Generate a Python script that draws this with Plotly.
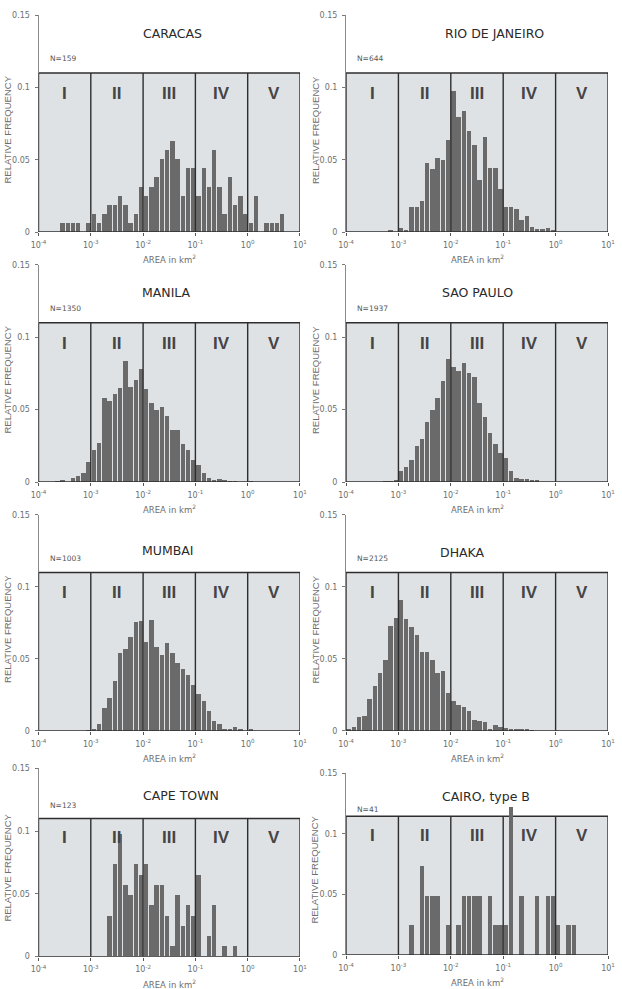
import plotly.graph_objects as go

# ---------------- data ----------------
# 10 bins per decade, from 10^-4 to 10^1 km^2 (50 bins); values = relative frequency
BIN_LEFT_EXP = [-4 + i / 10 for i in range(50)]
BIN_WIDTH_EXP = 0.1

cities = ["CARACAS", "RIO DE JANEIRO", "MANILA", "SAO PAULO",
          "MUMBAI", "DHAKA", "CAPE TOWN", "CAIRO, type B"]
n_labels = ["N=159", "N=644", "N=1350", "N=1937", "N=1003", "N=2125", "N=123", "N=41"]

caracas = [0, 0, 0, 0, .0063, .0063, .0063, .0063, 0, .0063,
           .0126, .0063, .0126, .0189, .0189, .0252, .0189, .0063, .0126, .0314,
           .0252, .0314, .0377, .0503, .0566, .0629, .0503, .0252, .0440, .0440,
           .0252, .0440, .0314, .0566, .0314, .0126, .0377, .0189, .0252, .0126,
           .0063, .0252, 0, .0063, .0063, .0063, .0126, 0, 0, 0]
rio = [0, 0, 0, 0, 0, 0, 0, 0, .0016, 0,
       .0031, .0016, .0170, .0170, .0216, .0480, .0436, .0510, .0495, .0634,
       .0977, .0795, .0836, .0700, .0600, .0360, .0660, .0440, .0440, .0300,
       .0170, .0170, .0160, .0080, .0110, .0034, .0023, .0018, .0030, .0016,
       0, 0, 0, 0, 0, 0, 0, 0, 0, 0]
manila = [0, 0, 0, .0007, .0016, 0, .0030, .0044, .0065, .0140,
          .0223, .0272, .0583, .0560, .0610, .0650, .0840, .0657, .0703, .0783,
          .0645, .0546, .0500, .0520, .0456, .0357, .0357, .0265, .0220, .0150,
          .0120, .0062, .0030, .0012, .0020, .0011, .0010, .0007, 0, 0,
          .0010, 0, 0, 0, 0, 0, 0, 0, 0, 0]
sao_paulo = [0, 0, 0, 0, 0, 0, 0, .0005, .0010, .0012,
             .0076, .0104, .0155, .0250, .0296, .0417, .0500, .0580, .0700, .0850,
             .0794, .0766, .0824, .0752, .0725, .0544, .0447, .0338, .0262, .0204,
             .0164, .0076, .0025, .0018, .0023, .0014, .0012, 0, 0, 0,
             0, 0, 0, 0, 0, 0, 0, 0, 0, 0]
mumbai = [0, 0, 0, 0, 0, 0, 0, 0, 0, .0005,
          .0015, .0048, .0157, .0230, .0348, .0540, .0570, .0650, .0756, .0763,
          .0618, .0774, .0580, .0530, .0610, .0540, .0470, .0433, .0387, .0318,
          .0260, .0210, .0140, .0071, .0048, .0014, .0012, .0025, .0009, 0,
          .0014, 0, 0, 0, 0, 0, 0, 0, 0, 0]
dhaka = [.0012, .0030, .0100, .0105, .0220, .0310, .0405, .0490, .0727, .0784,
         .0910, .0780, .0720, .0665, .0550, .0550, .0490, .0400, .0420, .0265,
         .0210, .0180, .0165, .0138, .0073, .0069, .0064, .0011, .0040, .0030,
         .0023, .0014, .0010, .0009, .0009, .0005, 0, 0, 0, 0,
         0, 0, 0, 0, 0, 0, 0, 0, 0, 0]
cape_town = [0, 0, 0, 0, 0, 0, 0, 0, 0, 0,
             0, 0, 0, .0325, .0732, .0976, .0569, .0488, .0732, .0650,
             .0732, .0407, .0569, .0569, .0325, .0081, .0488, .0244, .0407, .0325,
             .0650, 0, .0163, .0407, 0, .0081, 0, .0081, 0, 0,
             0, 0, 0, 0, 0, 0, 0, 0, 0, 0]
cairo_b = [0, 0, 0, 0, 0, 0, 0, 0, 0, 0,
           0, 0, .0244, 0, .0732, .0488, .0488, .0488, 0, .0244,
           0, .0244, .0488, .0488, .0488, .0488, 0, .0488, .0244, .0244,
           .0244, .1220, 0, .0488, 0, 0, .0488, 0, .0488, .0488,
           .0244, 0, .0244, .0244, 0, 0, 0, 0, 0, 0]

series = [caracas, rio, manila, sao_paulo, mumbai, dhaka, cape_town, cairo_b]

class_labels = ["I", "II", "III", "IV", "V"]
class_bounds_exp = [-4, -3, -2, -1, 0, 1]
x_tick_exp = [-4, -3, -2, -1, 0, 1]
x_tick_text = ["10<sup>%d</sup>" % e for e in x_tick_exp]
y_tick_vals = [0, 0.05, 0.1, 0.15]
y_tick_text = ["0", "0.05", "0.1", "0.15"]

# ---------------- layout config ----------------
W, H = 622, 989
col_dom = [[0.0619, 0.4823], [0.5563, 0.9775]]
row_dom = [[0.7654, 0.9848], [0.5126, 0.7321], [0.2609, 0.4793], [0.0327, 0.2232]]
cairo_dom = [0.0344, 0.2181]

panel_cfg = [
    # (row, col, title_x, title_y, box_top, numeral_y)
    (0, 0, -1.44, 0.137, 0.110, 0.096),
    (0, 1, -1.17, 0.137, 0.110, 0.096),
    (1, 0, -1.55, 0.131, 0.110, 0.096),
    (1, 1, -1.50, 0.131, 0.110, 0.096),
    (2, 0, -1.52, 0.125, 0.110, 0.096),
    (2, 1, -1.77, 0.124, 0.110, 0.096),
    (3, 0, -1.28, 0.128, 0.110, 0.095),
    (3, 1, -1.33, 0.131, 0.1145, 0.099),
]

BOX_FILL = "#dfe2e5"
LINE_DARK = "#2e2e2e"
BAR_COLOR = "#6a6a6a"
GRAY_TXT = "#6e6e6e"

fig = go.Figure()
shapes = []
annotations = []
layout_axes = {}

for i, (cfg, name, nlab, vals) in enumerate(zip(panel_cfg, cities, n_labels, series), start=1):
    row, col, tx, ty, box_top, num_y = cfg
    xa = "x" if i == 1 else "x%d" % i
    ya = "y" if i == 1 else "y%d" % i
    xkey = "xaxis" if i == 1 else "xaxis%d" % i
    ykey = "yaxis" if i == 1 else "yaxis%d" % i
    ydom = cairo_dom if (row == 3 and col == 1) else row_dom[row]

    centers = [b + BIN_WIDTH_EXP / 2 for b in BIN_LEFT_EXP]
    fig.add_trace(go.Bar(
        x=centers, y=vals, width=0.085, xaxis=xa, yaxis=ya,
        marker=dict(color=BAR_COLOR, line=dict(width=0)),
        showlegend=False, hoverinfo="skip"))

    layout_axes[xkey] = dict(
        domain=col_dom[col], range=[-4, 1], anchor=ya, automargin=False,
        tickvals=x_tick_exp, ticktext=x_tick_text,
        ticks="outside", ticklen=3, tickcolor="#555", tickwidth=1,
        showline=False, showgrid=False, zeroline=False,
        tickfont=dict(family="DejaVu Sans", size=8, color=GRAY_TXT),
        ticklabelstandoff=2, fixedrange=True)
    layout_axes[ykey] = dict(
        domain=ydom, range=[0, 0.15], anchor=xa, automargin=False,
        tickvals=y_tick_vals, ticktext=y_tick_text,
        ticks="outside", ticklen=3, tickcolor="#777", tickwidth=1,
        showline=True, linecolor="#8a8a8a", linewidth=1,
        showgrid=False, zeroline=False,
        tickfont=dict(family="DejaVu Sans", size=8, color=GRAY_TXT),
        ticklabelstandoff=3, fixedrange=True)

    # gray class box (background)
    shapes.append(dict(type="rect", xref=xa, yref=ya, x0=-4, x1=1, y0=0, y1=box_top,
                       fillcolor=BOX_FILL, line=dict(width=0), layer="below"))
    shapes.append(dict(type="line", xref=xa, yref=ya, x0=-4, x1=1, y0=box_top, y1=box_top,
                       line=dict(color=LINE_DARK, width=1.5), layer="below"))
    # outline bottom and class boundaries (on top of bars)
    shapes.append(dict(type="line", xref=xa, yref=ya, x0=-4, x1=1, y0=0, y1=0,
                       line=dict(color=LINE_DARK, width=1.5), layer="above"))
    for b in class_bounds_exp:
        shapes.append(dict(type="line", xref=xa, yref=ya, x0=b, x1=b, y0=0, y1=box_top,
                           line=dict(color=LINE_DARK, width=1.4), layer="above"))

    # class numerals
    for k, lab in enumerate(class_labels):
        xc = (class_bounds_exp[k] + class_bounds_exp[k + 1]) / 2
        annotations.append(dict(xref=xa, yref=ya, x=xc, y=num_y, text="<b>%s</b>" % lab,
                                showarrow=False,
                                font=dict(family="Liberation Sans", size=17, color="#454545")))

    # title and N
    annotations.append(dict(xref=xa, yref=ya, x=tx, y=ty, text=name, showarrow=False,
                            font=dict(family="DejaVu Sans", size=12.5, color="#2a2a2a")))
    annotations.append(dict(xref=xa, yref=ya, x=-3.82, y=0.12, text=nlab, showarrow=False,
                            xanchor="left", yanchor="middle",
                            font=dict(family="DejaVu Sans", size=7.5, color="#555555")))

    # axis titles
    annotations.append(dict(xref=xa + " domain", yref=ya + " domain", x=0.5, y=0,
                            yshift=-27, yanchor="middle", text="AREA in km<sup>2</sup>",
                            showarrow=False,
                            font=dict(family="DejaVu Sans", size=8.5, color=GRAY_TXT)))
    annotations.append(dict(xref=xa + " domain", yref=ya + " domain", x=0, y=0.47,
                            xshift=-31, xanchor="center", yanchor="middle", textangle=-90,
                            text="RELATIVE FREQUENCY", showarrow=False,
                            font=dict(family="Liberation Sans", size=9.5, color=GRAY_TXT)))

fig.update_layout(
    width=W, height=H,
    margin=dict(l=0, r=0, t=0, b=0, autoexpand=False),
    paper_bgcolor="white", plot_bgcolor="white",
    bargap=0, shapes=shapes, annotations=annotations,
    **layout_axes)

fig.write_html("out.html", config={"displayModeBar": False})
